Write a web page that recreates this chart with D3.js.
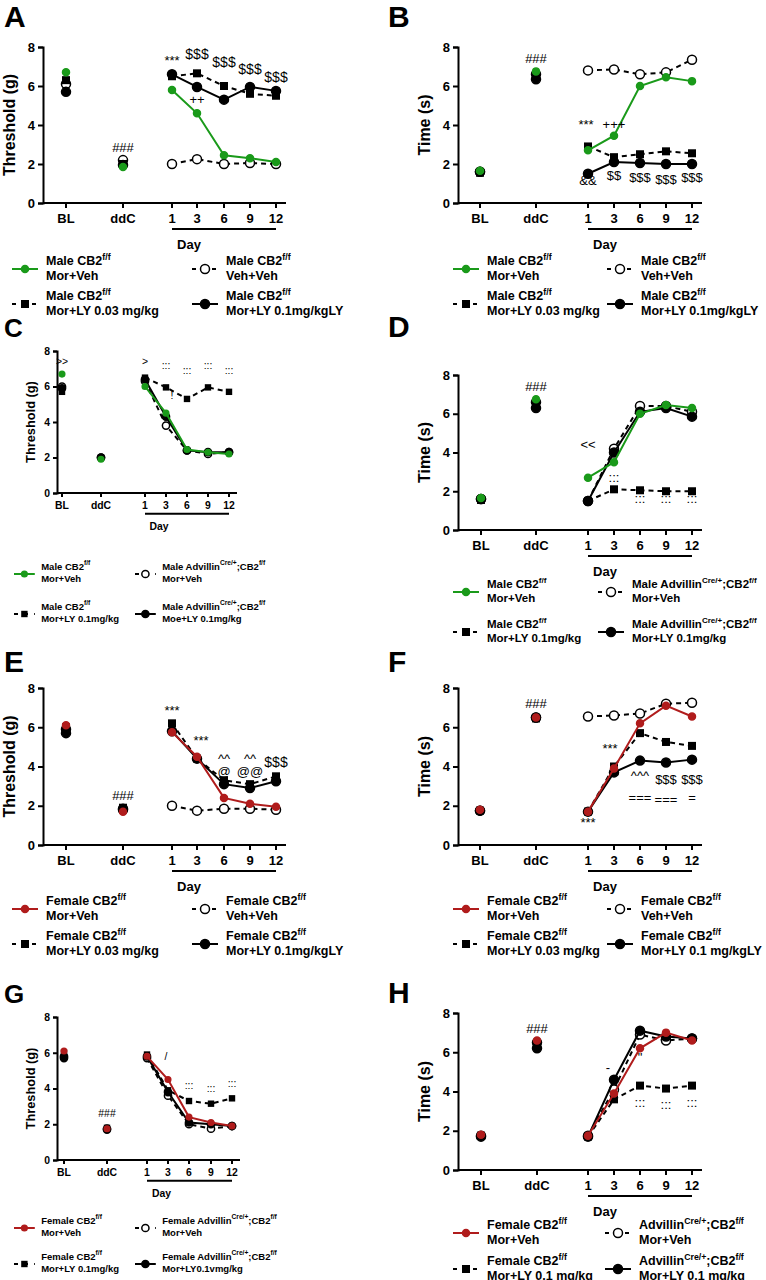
<!DOCTYPE html>
<html><head><meta charset="utf-8">
<script src="https://cdn.jsdelivr.net/npm/d3@7"></script>
<style>body{margin:0;background:#fff}text{font-family:Arial,"Liberation Sans",sans-serif}</style>
</head><body><svg id="c" width="766" height="1280"></svg>
<script>
const xCats = ["BL","ddC","1","3","6","9","12"];
const yTicks = [0,2,4,6,8];
const green = "#1a9a1a", red = "#b01c1c";
const A_vals = [[6.7,1.85,5.8,4.6,2.45,2.3,2.1],[6.1,2.2,2.0,2.25,2.0,2.05,2.0],[6.3,2.0,6.5,6.65,6.0,5.6,5.5],[5.7,1.95,6.6,5.95,5.3,5.95,5.75]];
const B_vals = [[1.65,6.75,2.7,3.45,6.0,6.45,6.25],[1.6,6.6,6.8,6.85,6.6,6.7,7.35],[1.55,6.6,2.9,2.35,2.5,2.65,2.55],[1.6,6.35,1.5,2.1,2.05,2.0,2.0]];
const C_vals = [[6.7,1.9,6.0,4.5,2.45,2.3,2.2],[6.0,2.0,6.3,3.8,2.4,2.2,2.3],[5.7,2.0,6.5,5.95,5.3,5.95,5.7],[5.9,2.0,6.4,4.3,2.4,2.3,2.3]];
const D_vals = [[1.65,6.75,2.7,3.5,6.0,6.45,6.3],[1.6,6.6,1.5,4.2,6.4,6.4,6.1],[1.55,6.5,1.5,2.1,2.05,2.0,2.0],[1.6,6.3,1.5,4.0,6.1,6.3,5.85]];
const E_vals = [[6.1,1.7,5.75,4.5,2.4,2.1,1.95],[5.9,1.85,2.0,1.75,1.85,1.85,1.8],[6.0,1.9,6.2,4.4,3.3,3.1,3.5],[5.7,1.8,5.8,4.4,3.1,2.9,3.25]];
const F_vals = [[1.8,6.5,1.7,3.9,6.2,7.1,6.55],[1.75,6.5,6.55,6.6,6.7,7.2,7.25],[1.75,6.45,1.7,4.0,5.7,5.25,5.05],[1.75,6.5,1.7,3.7,4.3,4.2,4.35]];
const G_vals = [[6.1,1.75,5.8,4.5,2.4,2.1,1.9],[5.8,1.75,5.7,3.6,2.0,1.75,1.9],[6.0,1.8,5.9,3.9,3.3,3.15,3.45],[5.7,1.7,5.8,3.8,2.1,2.0,1.9]];
const H_vals = [[1.8,6.6,1.75,3.9,6.2,7.0,6.6],[1.75,6.5,1.75,4.1,6.9,6.6,6.7],[1.75,6.4,1.7,3.6,4.3,4.15,4.3],[1.7,6.2,1.7,4.6,7.1,6.8,6.7]];
const legMale1 = [["Male CB2","f/f","","Mor+Veh"],["Male CB2","f/f","","Veh+Veh"],["Male CB2","f/f","","Mor+LY 0.03 mg/kg"],["Male CB2","f/f","","Mor+LY 0.1mg/kgLY"]];
const legMaleC = [["Male CB2","f/f","","Mor+Veh"],["Male Advillin","Cre/+",";CB2f/f","Mor+Veh"],["Male CB2","f/f","","Mor+LY 0.1mg/kg"],["Male Advillin","Cre/+",";CB2f/f","Moe+LY 0.1mg/kg"]];
const legMaleD = [["Male CB2","f/f","","Mor+Veh"],["Male Advillin","Cre/+",";CB2f/f","Mor+Veh"],["Male CB2","f/f","","Mor+LY 0.1mg/kg"],["Male Advillin","Cre/+",";CB2f/f","Mor+LY 0.1mg/kg"]];
const legE = [["Female CB2","f/f","","Mor+Veh"],["Female CB2","f/f","","Veh+Veh"],["Female CB2","f/f","","Mor+LY 0.03 mg/kg"],["Female CB2","f/f","","Mor+LY 0.1mg/kgLY"]];
const legF = [["Female CB2","f/f","","Mor+Veh"],["Female CB2","f/f","","Veh+Veh"],["Female CB2","f/f","","Mor+LY 0.03 mg/kg"],["Female CB2","f/f","","Mor+LY 0.1 mg/kgLY"]];
const legG = [["Female CB2","f/f","","Mor+Veh"],["Female Advillin","Cre/+",";CB2f/f","Mor+Veh"],["Female CB2","f/f","","Mor+LY 0.1mg/kg"],["Female Advillin","Cre/+",";CB2f/f","Mor+LY0.1vmg/kg"]];
const legH = [["Female CB2","f/f","","Mor+Veh"],["Advillin","Cre/+",";CB2f/f","Mor+Veh"],["Female CB2","f/f","","Mor+LY 0.1 mg/kg"],["Advillin","Cre/+",";CB2f/f","Mor+LY 0.1 mg/kg"]];

const svg = d3.select("#c");
function panel(o){
  const g = svg.append("g");
  const s = o.small ? 0.8 : 1;
  g.append("text").attr("x",o.lx).attr("y",o.ly).attr("font-size",o.small?26:30).attr("font-weight","bold").text(o.letter);
  const y = d3.scaleLinear().domain([0,8]).range([o.y0,o.y8]);
  const xs = {};
  o.xpos.forEach((p,i)=>xs[xCats[i]]=p);
  const X = c=>xs[c];
  g.append("g").attr("transform",`translate(${o.ax},0)`).call(d3.axisLeft(y).tickValues(yTicks).tickSize(5*s))
   .call(a=>{a.select(".domain").attr("stroke-width",2);a.selectAll("line").attr("stroke-width",2);a.selectAll("text").attr("font-size",13*s).attr("font-weight","bold");});
  const ax = g.append("g").attr("transform",`translate(0,${o.y0})`);
  ax.append("line").attr("x1",o.ax).attr("x2",o.xpos[6]+10*s).attr("stroke","#000").attr("stroke-width",2);
  xCats.forEach(c=>{ax.append("line").attr("x1",X(c)).attr("x2",X(c)).attr("y2",5*s).attr("stroke","#000").attr("stroke-width",2);
    ax.append("text").attr("x",X(c)).attr("y",20*s).attr("text-anchor","middle").attr("font-size",13*s).attr("font-weight","bold").text(c);});
  g.append("line").attr("x1",X("1")).attr("x2",X("12")).attr("y1",o.y0+26*s).attr("y2",o.y0+26*s).attr("stroke","#000").attr("stroke-width",2);
  g.append("text").attr("x",(X("1")+X("12"))/2-35*s).attr("y",o.y0+46*s).attr("text-anchor","middle").attr("font-size",13*s).attr("font-weight","bold").text("Day");
  g.append("text").attr("transform",`translate(${o.ax-28*s},${(o.y0+o.y8)/2}) rotate(-90)`).attr("text-anchor","middle").attr("font-size",16*s).attr("font-weight","bold").text(o.ylab);
  const styles = [{c:o.col,dash:null,m:"c",f:o.col,r:3.5},{c:"#000",dash:"5,4",m:"c",f:"#fff",r:4.5},{c:"#000",dash:"5,4",m:"s",f:"#000",r:4},{c:"#000",dash:null,m:"c",f:"#000",r:4.5}];
  [1,2,3,0].forEach(k=>{
    const v=o.vals[k], st=styles[k];
    const pts = v.slice(2).map((d,i)=>[X(xCats[i+2]),y(d)]);
    g.append("path").attr("d",d3.line()(pts)).attr("fill","none").attr("stroke",st.c).attr("stroke-width",2).attr("stroke-dasharray",st.dash);
    v.forEach((d,i)=>{
      const px=X(xCats[i]), py=y(d);
      if(st.m==="s") g.append("rect").attr("x",px-st.r*s).attr("y",py-st.r*s).attr("width",2*st.r*s).attr("height",2*st.r*s).attr("fill",st.f);
      else g.append("circle").attr("cx",px).attr("cy",py).attr("r",st.r*s).attr("fill",st.f).attr("stroke",st.c).attr("stroke-width",1.5);
    });
  });
  o.ann.forEach(a=>g.append("text").attr("x",X(a[0])+(a[3]||0)).attr("y",y(a[1])).attr("text-anchor","middle").attr("fill","#000").attr("font-size",(a[4]||13)*s).attr("font-family","'DejaVu Serif',serif").text(a[2]));
  const L=o.leg, fs=o.legFs||(o.small?9.5:12.5);
  [[0,0],[1,1],[2,0],[3,1]].forEach(([k,col],i)=>{
    const row = i<2?0:1;
    const sx = col? o.legX2 : o.legX1, ty = o.legY + row*o.legDy;
    const st=styles[k];
    const ly = ty+4;
    g.append("line").attr("x1",sx).attr("x2",sx+26*s).attr("y1",ly).attr("y2",ly).attr("stroke",st.c).attr("stroke-width",2).attr("stroke-dasharray",st.dash?"4,6":null);
    if(st.m==="s") g.append("rect").attr("x",sx+13*s-st.r*s).attr("y",ly-st.r*s).attr("width",2*st.r*s).attr("height",2*st.r*s).attr("fill",st.f);
    else g.append("circle").attr("cx",sx+13*s).attr("cy",ly).attr("r",st.r*s).attr("fill",st.f).attr("stroke",st.c).attr("stroke-width",1.5);
    const t=g.append("text").attr("x",sx+34*s).attr("y",ty).attr("font-size",fs).attr("font-weight","bold");
    t.append("tspan").text(L[k][0]);
    t.append("tspan").attr("dy",-5).attr("font-size",fs*0.7).text(L[k][1]);
    if(L[k][2]){ t.append("tspan").attr("dy",5).text(";CB2"); t.append("tspan").attr("dy",-5).attr("font-size",fs*0.7).text("f/f"); }
    g.append("text").attr("x",sx+34*s).attr("y",ty+fs+2).attr("font-size",fs).attr("font-weight","bold").text(L[k][3]);
  });
}
const bigL=[66,123,172,197,224,250,276], bigR=[480,536,588,614,640,666,692];
panel({letter:"A",lx:4,ly:27,ax:43,y0:203,y8:47,xPos:0,xpos:bigL,ylab:"Threshold (g)",vals:A_vals,col:green,leg:legMale1,legX1:12,legX2:192,legY:265,legDy:35,
 ann:[["ddC",2.6,"###"],["1",7.1,"***"],["3",7.4,"$$$",0,14],["6",7.0,"$$$",0,14],["9",6.6,"$$$",0,14],["12",6.2,"$$$",0,14],["3",5.1,"++"]]});
panel({letter:"B",lx:388,ly:27,ax:458,y0:203,y8:47,xpos:bigR,ylab:"Time (s)",vals:B_vals,col:green,leg:legMale1,legX1:453,legX2:607,legY:265,legDy:35,
 ann:[["ddC",7.2,"###"],["1",3.8,"***",-2],["3",3.8,"+++",0],["1",0.9,"&&"],["3",1.2,"$$",0,13],["6",1.1,"$$$",0,13],["9",1.0,"$$$",0,13],["12",1.1,"$$$",0,13]]});
panel({letter:"C",lx:4,ly:337,ax:57,y0:493,y8:351,xpos:[62,101,145,166,187,208,229],ylab:"Threshold (g)",vals:C_vals,col:green,small:true,leg:legMaleC,legX1:14,legX2:135,legY:570,legDy:40,
 ann:[["BL",7.2,">>"],["1",7.2,">"],["3",7.0,":::"],["6",6.7,":::"],["9",7.0,":::"],["12",6.7,":::"],["3",5.3,"!",6]]});
panel({letter:"D",lx:388,ly:337,ax:458,y0:530,y8:375,xpos:[481,536,588,614,640,666,692],ylab:"Time (s)",vals:D_vals,col:green,leg:legMaleD,legFs:11.5,legX1:453,legX2:598,legY:588,legDy:40,
 ann:[["ddC",7.2,"###"],["1",4.2,"<<"],["3",2.5,":::"],["6",1.4,":::"],["9",1.4,":::"],["12",1.4,":::"]]});
panel({letter:"E",lx:4,ly:672,ax:43,y0:845,y8:688,xpos:bigL,ylab:"Threshold (g)",vals:E_vals,col:red,leg:legE,legX1:12,legX2:192,legY:905,legDy:35,
 ann:[["ddC",2.3,"###"],["1",6.6,"***"],["3",5.1,"***",4],["6",4.2,"^^"],["9",4.2,"^^"],["6",3.5,"@"],["9",3.5,"@@"],["12",4.0,"$$$",0,14]]});
panel({letter:"F",lx:388,ly:672,ax:458,y0:845,y8:688,xpos:bigR,ylab:"Time (s)",vals:F_vals,col:red,leg:legF,legX1:453,legX2:607,legY:905,legDy:35,
 ann:[["ddC",7.0,"###"],["3",4.7,"***",-4],["1",0.9,"***"],["6",3.3,"^^^"],["9",3.1,"$$$",0,13],["12",3.1,"$$$",0,13],["6",2.2,"==="],["9",2.1,"==="],["12",2.2,"="]]});
panel({letter:"G",lx:4,ly:1003,ax:57,y0:1160,y8:1017,xpos:[64,107,147,168,189,211,232],ylab:"Threshold (g)",vals:G_vals,col:red,small:true,leg:legG,legX1:14,legX2:135,legY:1224,legDy:36,
 ann:[["ddC",2.4,"###"],["3",5.6,"/",-2],["6",4.0,":::"],["9",3.8,":::"],["12",4.1,":::"]]});
panel({letter:"H",lx:388,ly:1003,ax:458,y0:1170,y8:1013,xpos:[481,537,588,614,640,666,692],ylab:"Time (s)",vals:H_vals,col:red,leg:legH,legX1:453,legX2:605,legY:1229,legDy:36,
 ann:[["ddC",7.0,"###"],["3",5.0,"-",-6],["6",5.5,"\""],["6",3.2,":::"],["9",3.1,":::"],["12",3.2,":::"]]});
</script></body></html>
